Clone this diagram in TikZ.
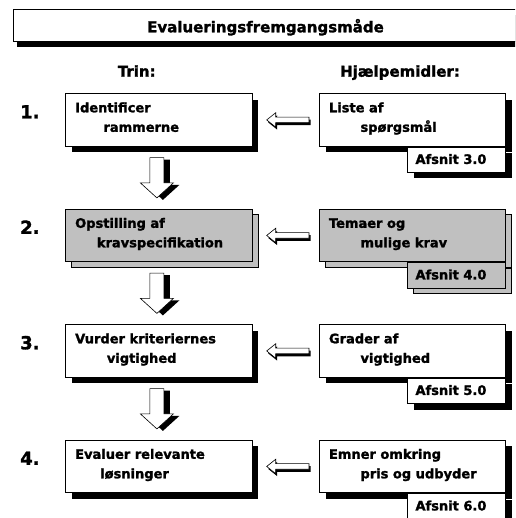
\documentclass[tikz,border=0pt]{standalone}
\usepackage{fontspec}
\setmainfont{DejaVu Sans}[BoldFeatures={FakeBold=1.6}]
\usetikzlibrary{shadows}

\definecolor{panelgray}{RGB}{192,192,192}

\tikzset{
    txt/.style={font=\fontsize{13}{15}\selectfont\bfseries, inner sep=0pt, anchor=base west},
    headtxt/.style={font=\fontsize{15}{18}\selectfont\bfseries, inner sep=0pt, anchor=base},
    numtxt/.style={font=\fontsize{18}{21}\selectfont\bfseries, inner sep=0pt, anchor=base west},
    panel/.style={draw=black, line width=0.8pt, inner sep=0pt, anchor=north west},
    whitepanel/.style={panel, fill=white,
        drop shadow={shadow xshift=6.5pt, shadow yshift=-6pt, opacity=1, fill=black}},
    graypanel/.style={panel, fill=panelgray,
        copy shadow={shadow xshift=6pt, shadow yshift=-5.5pt}},
    blockarrow/.style={draw=black, line width=0.6pt, fill=white, line join=miter},
}

\begin{document}
\begin{tikzpicture}[x=1pt, y=-1pt]
    \useasboundingbox (0,0) rectangle (515,518);
    \clip (0,0) rectangle (515,518);

    % Title bar and column heads
    \node[panel, fill=white, minimum width=510pt, minimum height=32pt,
        drop shadow={shadow xshift=4pt, shadow yshift=-6pt, opacity=1, fill=black}] (tb) at (13,9) {};
    \node[headtxt] (tt) at (265.5,32.3) {Evalueringsfremgangsmåde};
    \node[headtxt] (trin) at (136.7,76.7) {Trin:};
    \node[headtxt] (hjlp) at (400,76.7) {Hjælpemidler:};

    % One row per step: step box, aid box, section tag
    \foreach \r/\la/\lb/\li/\ra/\rb/\sec in {
        1/Identificer/rammerne/38.3/Liste af/spørgsmål/3.0,
        2/Opstilling af/kravspecifikation/31.7/Temaer og/mulige krav/4.0,
        3/Vurder kriteriernes/vigtighed/41.7/Grader af/vigtighed/5.0,
        4/Evaluer relevante/løsninger/35/Emner omkring/pris og udbyder/6.0} {
        \pgfmathsetmacro{\yr}{93.3 + (\r-1)*115.5}
        % Grey stack for step 2, black shadow otherwise
        \ifnum\r=2
            \tikzset{rowlook/.style={graypanel}}
        \else
            \tikzset{rowlook/.style={whitepanel}}
        \fi
        \node[rowlook, minimum width=186.5pt, minimum height=52.5pt] (s\r) at (65,\yr) {};
        \node[rowlook, minimum width=186pt, minimum height=52.5pt] (h\r) at (319.3,\yr) {};
        \node[rowlook, anchor=north east, minimum width=98pt, minimum height=25.5pt] (a\r) at (h\r.south east) {};
        % Texts
        \node[numtxt] (n\r) at ([shift={(-45pt,-25pt)}]s\r.north west) {\r.};
        \node[txt] (sa\r) at ([shift={(10pt,-19pt)}]s\r.north west) {\la};
        \node[txt] (sb\r) at ([shift={(\li pt,-38.5pt)}]s\r.north west) {\lb};
        \node[txt] (ha\r) at ([shift={(9.5pt,-19pt)}]h\r.north west) {\ra};
        \node[txt] (hb\r) at ([shift={(41pt,-38.5pt)}]h\r.north west) {\rb};
        \node[txt] (at\r) at ([shift={(8pt,-17.3pt)}]a\r.north west) {Afsnit \sec};
        % Hollow arrow from aid to step
        \filldraw[blockarrow, drop shadow={shadow xshift=1.5pt, shadow yshift=-2.5pt, opacity=1, fill=black}]
            ([shift={(-10.3pt,2.8pt)}]h\r.west) -- ++(-33.3pt,0) -- ++(0,4.4pt) -- ++(-9pt,-7.2pt)
            -- ++(9pt,-7.2pt) -- ++(0,4.4pt) -- ++(33.3pt,0) -- cycle;
    }

    % Hollow arrows down between the steps
    \foreach \r in {1,2,3} {
        \filldraw[blockarrow, drop shadow={shadow xshift=6pt, shadow yshift=-2pt, opacity=1, fill=black}]
            ([shift={(-8.75pt,-11pt)}]s\r.south) -- ++(14pt,0) -- ++(0,-25.3pt) -- ++(9.5pt,0)
            -- ++(-16.5pt,-15pt) -- ++(-16.5pt,15pt) -- ++(9.5pt,0) -- cycle;
    }
\end{tikzpicture}
\end{document}
